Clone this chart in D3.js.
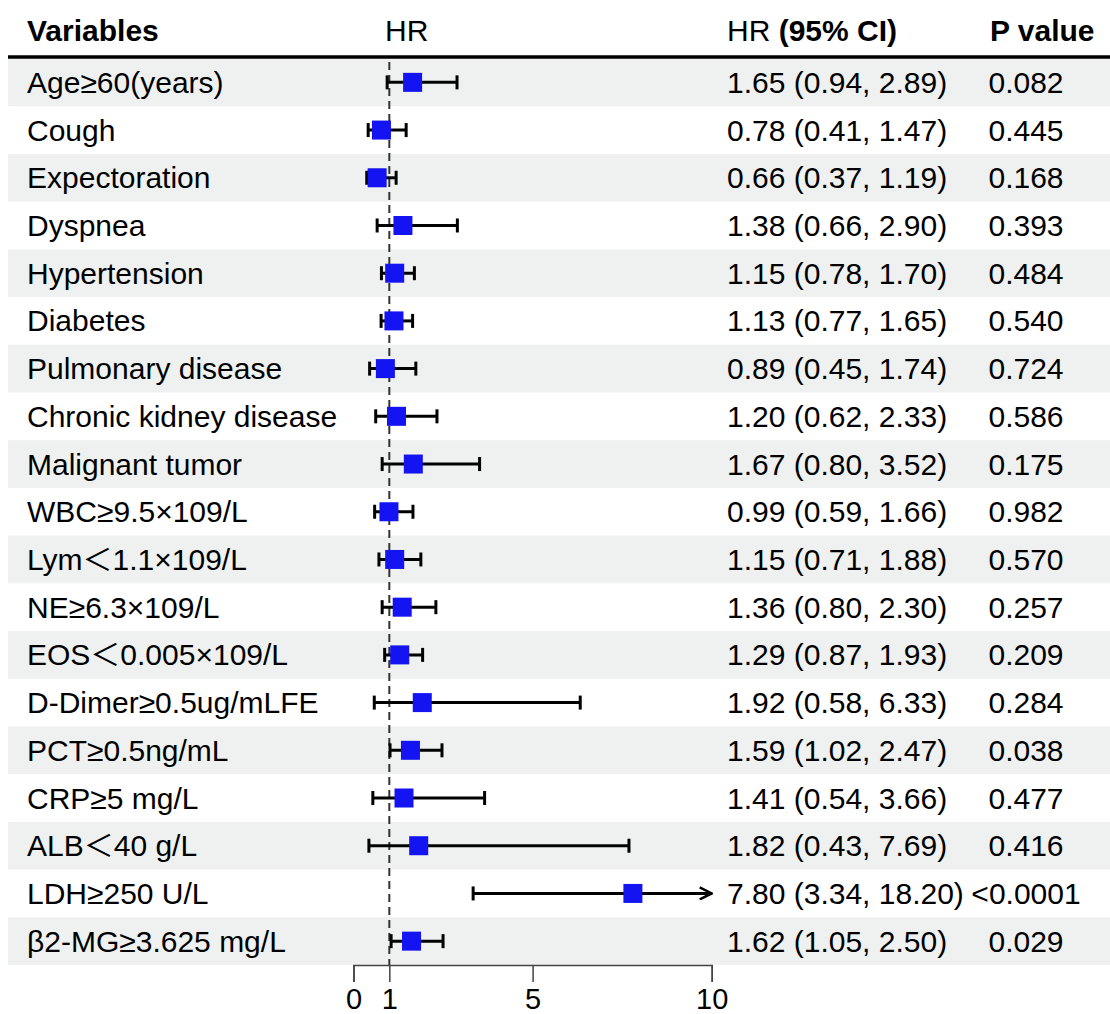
<!DOCTYPE html>
<html>
<head>
<meta charset="utf-8">
<script src="https://cdn.jsdelivr.net/npm/d3@7"></script>
<style>
  body { margin: 0; background: #fff; }
  text { font-family: "Liberation Sans", "Noto Sans CJK SC", Arial, sans-serif; fill: #000; }
</style>
</head>
<body>
<div id="chart"></div>
<script>
var labels = ["Age≥60(years)", "Cough", "Expectoration", "Dyspnea", "Hypertension", "Diabetes",
  "Pulmonary disease", "Chronic kidney disease", "Malignant tumor", "WBC≥9.5×109/L",
  "Lym＜1.1×109/L", "NE≥6.3×109/L", "EOS＜0.005×109/L", "D-Dimer≥0.5ug/mLFE",
  "PCT≥0.5ng/mL", "CRP≥5 mg/L", "ALB＜40 g/L", "LDH≥250 U/L", "β2-MG≥3.625 mg/L"];
var hr = [1.65, 0.78, 0.66, 1.38, 1.15, 1.13, 0.89, 1.20, 1.67, 0.99, 1.15, 1.36, 1.29, 1.92, 1.59, 1.41, 1.82, 7.80, 1.62];
var lower = [0.94, 0.41, 0.37, 0.66, 0.78, 0.77, 0.45, 0.62, 0.80, 0.59, 0.71, 0.80, 0.87, 0.58, 1.02, 0.54, 0.43, 3.34, 1.05];
var upper = [2.89, 1.47, 1.19, 2.90, 1.70, 1.65, 1.74, 2.33, 3.52, 1.66, 1.88, 2.30, 1.93, 6.33, 2.47, 3.66, 7.69, 18.20, 2.50];
var pvals = ["0.082", "0.445", "0.168", "0.393", "0.484", "0.540", "0.724", "0.586", "0.175", "0.982",
  "0.570", "0.257", "0.209", "0.284", "0.038", "0.477", "0.416", "<0.0001", "0.029"];
var xTicks = [0, 1, 5, 10];

var width = 1110, height = 1014;
var fs = 30;
var rows = labels.map(function(d, i) {
  return {label: d, hr: hr[i], lo: lower[i], hi: upper[i], p: pvals[i], i: i};
});

var svg = d3.select('#chart').append('svg')
  .attr('width', width)
  .attr('height', height);

var x = d3.scaleLinear().domain([0, 10]).range([353.5, 711.7]);
var y = d3.scaleBand().domain(d3.range(labels.length)).range([58.5, 965]);
var rh = y.bandwidth();

// stripes
svg.append('g').selectAll('rect')
  .data(rows.filter(function(d) { return d.i % 2 === 0; }))
  .join('rect')
  .attr('x', 8)
  .attr('y', function(d) { return y(d.i); })
  .attr('width', width - 8)
  .attr('height', rh)
  .attr('fill', '#eef1f0');

// header
var head = svg.append('g').attr('font-size', fs);
head.append('text').attr('x', 27).attr('y', 41).attr('font-weight', 'bold').text('Variables');
head.append('text').attr('x', 385).attr('y', 41).text('HR');
var hci = head.append('text').attr('x', 727).attr('y', 41);
hci.append('tspan').text('HR ');
hci.append('tspan').attr('font-weight', 'bold').text('(95% CI)');
head.append('text').attr('x', 990).attr('y', 41).attr('font-weight', 'bold').text('P value');

svg.append('line')
  .attr('x1', 8).attr('x2', width)
  .attr('y1', 57).attr('y2', 57)
  .attr('stroke', '#000')
  .attr('stroke-width', 3.5);

// axis
var axis = svg.append('g')
  .attr('transform', 'translate(0,965)')
  .call(d3.axisBottom(x).tickValues(xTicks).tickSize(17).tickPadding(6).tickFormat(d3.format('d')));
axis.select('.domain').attr('stroke', '#444').attr('stroke-width', 1.5);
axis.selectAll('.tick line').attr('stroke', '#444').attr('stroke-width', 1.5);
axis.selectAll('.tick text')
  .attr('font-size', 29)
  .attr('font-family', '"Liberation Sans", Arial, sans-serif')
  .attr('fill', '#000');

// reference line at HR = 1
svg.append('line')
  .attr('x1', x(1)).attr('x2', x(1))
  .attr('y1', 62).attr('y2', 965)
  .attr('stroke', '#333')
  .attr('stroke-width', 2)
  .attr('stroke-dasharray', '8,5');

// marker for clipped CI
svg.append('defs').append('marker')
  .attr('id', 'arrow')
  .attr('viewBox', '0 0 14 14')
  .attr('refX', 13).attr('refY', 7)
  .attr('markerWidth', 14).attr('markerHeight', 14)
  .attr('markerUnits', 'userSpaceOnUse')
  .attr('orient', 'auto')
  .append('path')
  .attr('d', 'M1,1 L13,7 L1,13')
  .attr('fill', 'none')
  .attr('stroke', '#000')
  .attr('stroke-width', 2.5);

var g = svg.append('g');
var row = g.selectAll('g.row')
  .data(rows)
  .join('g')
  .attr('class', 'row')
  .attr('transform', function(d) { return 'translate(0,' + (y(d.i) + rh / 2) + ')'; });

var xmax = x.domain()[1];
row.append('line')
  .attr('x1', function(d) { return x(d.lo); })
  .attr('x2', function(d) { return x(Math.min(d.hi, xmax)); })
  .attr('stroke', '#000')
  .attr('stroke-width', 3)
  .attr('marker-end', function(d) { return d.hi > xmax ? 'url(#arrow)' : null; });

row.append('line')
  .attr('x1', function(d) { return x(d.lo); })
  .attr('x2', function(d) { return x(d.lo); })
  .attr('y1', -7).attr('y2', 7)
  .attr('stroke', '#000').attr('stroke-width', 3);

row.filter(function(d) { return d.hi <= xmax; }).append('line')
  .attr('x1', function(d) { return x(d.hi); })
  .attr('x2', function(d) { return x(d.hi); })
  .attr('y1', -7).attr('y2', 7)
  .attr('stroke', '#000').attr('stroke-width', 3);

var sq = 19;
row.append('rect')
  .attr('x', function(d) { return x(d.hr) - sq / 2; })
  .attr('y', -sq / 2)
  .attr('width', sq).attr('height', sq)
  .attr('fill', '#1414f2');

row.append('text')
  .attr('x', 27).attr('dy', '0.35em')
  .attr('font-size', fs)
  .text(function(d) { return d.label; });

row.append('text')
  .attr('x', 727).attr('dy', '0.35em')
  .attr('font-size', fs)
  .text(function(d) { return d.hr.toFixed(2) + ' (' + d.lo.toFixed(2) + ', ' + d.hi.toFixed(2) + ')'; });

row.append('text')
  .attr('x', 1026).attr('dy', '0.35em')
  .attr('font-size', fs)
  .attr('text-anchor', 'middle')
  .text(function(d) { return d.p; });
</script>
</body>
</html>
